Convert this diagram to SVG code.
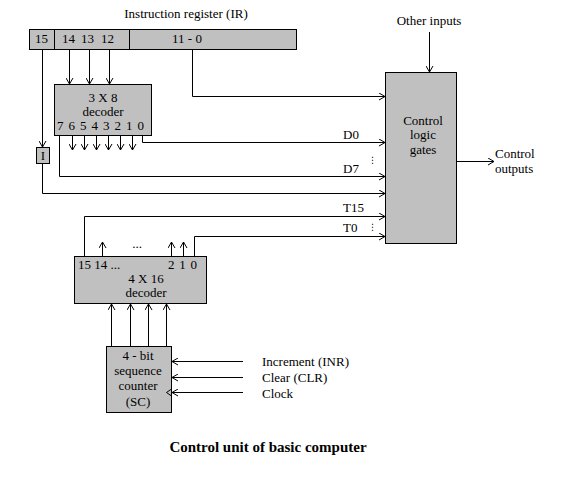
<svg xmlns="http://www.w3.org/2000/svg" width="564" height="490" viewBox="0 0 564 490">
<style>
.box{fill:#c0c0c0;stroke:#000;stroke-width:1}
.w{fill:none;stroke:#000;stroke-width:1}
.a{fill:none;stroke:#000;stroke-width:1;marker-end:url(#arr)}
text{font-family:"Liberation Serif","Times New Roman",serif;font-size:13px;fill:#000}
.m{text-anchor:middle}
.cap{font-weight:bold;font-size:15px}
.vd{font-family:"DejaVu Sans",sans-serif;font-size:9px}
</style>
<defs>
<marker id="arr" viewBox="0 0 6 8" refX="6" refY="4" markerWidth="6" markerHeight="8" markerUnits="userSpaceOnUse" orient="auto">
<path d="M0,0.5 L6,4 L0,7.5" fill="none" stroke="#000" stroke-width="1"/>
</marker>
</defs>
<rect width="564" height="490" fill="#fff"/>
<g id="title"><text x="186" y="18" class="m">Instruction register (IR)</text></g>
<g id="ir">
<rect class="box" x="29.5" y="29.5" width="267" height="20"/>
<path class="w" d="M54.5,29.5 V49.5 M129.5,29.5 V49.5"/>
<text x="41.5" y="43" class="m">15</text>
<text x="62" y="43">14</text>
<text x="81" y="43">13</text>
<text x="101" y="43">12</text>
<text x="187" y="43" class="m">11 - 0</text>
</g>
<g id="decoder3x8">
<rect class="box" x="54.5" y="84.5" width="97" height="51"/>
<text x="103" y="102" class="m">3 X 8</text>
<text x="103" y="116" class="m">decoder</text>
<text x="57" y="130" textLength="87" lengthAdjust="spacing">7 6 5 4 3 2 1 0</text>
</g>
<g id="ibox">
<rect class="box" x="36.5" y="147.5" width="13" height="16"/>
<text x="43" y="160" class="m">I</text>
</g>
<g id="labels">
<text x="343" y="139">D0</text>
<text x="343" y="173">D7</text>
<text x="343" y="212">T15</text>
<text x="343" y="232">T0</text>
<text x="372.5" y="163" class="m vd">⋮</text>
<text x="372.5" y="230" class="m vd">⋮</text>
<text x="137" y="248" class="m">...</text>
</g>
<g id="other"><text x="429" y="25" class="m">Other inputs</text></g>
<g id="control">
<rect class="box" x="385.5" y="72.5" width="71" height="171"/>
<text x="423" y="125" class="m">Control</text>
<text x="423" y="139" class="m">logic</text>
<text x="423" y="154" class="m">gates</text>
</g>
<g id="outputs">
<text x="495" y="158">Control</text>
<text x="495" y="173">outputs</text>
</g>
<g id="decoder4x16">
<rect class="box" x="74.5" y="256.5" width="132" height="47"/>
<text x="78" y="269">15 14 ...</text>
<text x="168" y="269" textLength="29" lengthAdjust="spacing">2 1 0</text>
<text x="146" y="283" class="m">4 X 16</text>
<text x="146" y="297" class="m">decoder</text>
</g>
<g id="sc">
<rect class="box" x="106.5" y="346.5" width="65" height="66"/>
<path class="w" d="M171.5,389 L166.5,392.5 L171.5,396"/>
<text x="138" y="360" class="m">4 - bit</text>
<text x="138" y="375" class="m">sequence</text>
<text x="138" y="390" class="m">counter</text>
<text x="138" y="406" class="m">(SC)</text>
</g>
<g id="scinputs">
<text x="262" y="366">Increment (INR)</text>
<text x="262" y="382">Clear (CLR)</text>
<text x="262" y="398">Clock</text>
</g>
<g id="caption"><text x="268" y="452" class="m cap">Control unit of basic computer</text></g>
<g id="connectors">
<path class="a" d="M69.5,49 V84"/>
<path class="a" d="M89.5,49 V84"/>
<path class="a" d="M109.5,49 V84"/>
<path class="a" d="M42.5,49 V147"/>
<path class="a" d="M42.5,163 V193.5 H385"/>
<path class="a" d="M192.5,49 V96.5 H385"/>
<path class="a" d="M142.5,135 V142.5 H385"/>
<path class="a" d="M59.5,135 V176.5 H385"/>
<path class="a" d="M72.5,135 V150"/>
<path class="a" d="M84.5,135 V150"/>
<path class="a" d="M96.5,135 V150"/>
<path class="a" d="M108.5,135 V150"/>
<path class="a" d="M120.5,135 V150"/>
<path class="a" d="M132.5,135 V150"/>
<path class="a" d="M429.5,32 V72"/>
<path class="a" d="M457,161.5 H494"/>
<path class="a" d="M84.5,256 V216.5 H385"/>
<path class="a" d="M194.5,256 V236.5 H385"/>
<path class="a" d="M102.5,256 V242"/>
<path class="a" d="M171.5,256 V242"/>
<path class="a" d="M183.5,256 V242"/>
<path class="a" d="M111.5,346 V304"/>
<path class="a" d="M130.5,346 V304"/>
<path class="a" d="M148.5,346 V304"/>
<path class="a" d="M166.5,346 V304"/>
<path class="a" d="M243,361.5 H172"/>
<path class="a" d="M243,377.5 H172"/>
<path class="a" d="M243,392.5 H172"/>
</g>
</svg>
